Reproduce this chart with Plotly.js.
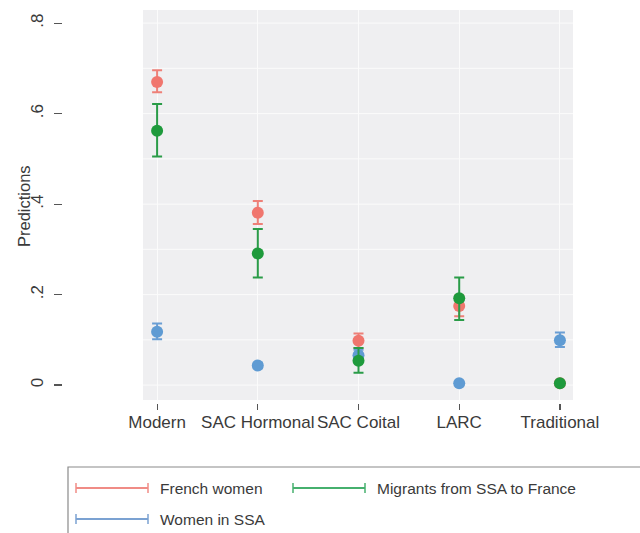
<!DOCTYPE html>
<html>
<head>
<meta charset="utf-8">
<script src="https://cdn.plot.ly/plotly-3.0.1.min.js"></script>
<style>html,body{margin:0;padding:0;background:#fff;}#chart{width:640px;height:533px;}</style>
</head>
<body>
<div id="chart"></div>
<script>
const categories = ["Modern", "SAC Hormonal", "SAC Coital", "LARC", "Traditional"];
const seriesNames = ["French women", "Migrants from SSA to France", "Women in SSA"];

const frenchValues = [0.670, 0.381, 0.098, 0.175, 0.004];
const frenchLow    = [0.647, 0.356, 0.082, 0.152, 0.001];
const frenchHigh   = [0.696, 0.407, 0.114, 0.198, 0.007];

const migrantValues = [0.562, 0.291, 0.054, 0.192, 0.004];
const migrantLow    = [0.505, 0.238, 0.027, 0.144, 0.001];
const migrantHigh   = [0.621, 0.345, 0.082, 0.238, 0.007];

const ssaValues = [0.118, 0.043, 0.066, 0.004, 0.099];
const ssaLow    = [0.101, 0.037, 0.054, 0.002, 0.084];
const ssaHigh   = [0.136, 0.049, 0.078, 0.006, 0.116];

const yTickVals = [0, 0.2, 0.4, 0.6, 0.8];
const yTickText = ["0", ".2", ".4", ".6", ".8"];
const yTitle = "Predictions";

const colors = ["#f0766e", "#1e9a3c", "#5f9bd3"];
const errColors = ["#ee8078", "#2a9c48", "#6a9ed4"];
const legendColors = ["#f08c86", "#46b06e", "#7ba2d2"];

function makeTrace(name, vals, lo, hi, i) {
  const xs = categories.map((c, k) => k);
  return {
    type: "scatter", mode: "markers", name: name,
    x: xs, y: vals,
    marker: {color: colors[i], size: 12},
    error_y: {
      type: "data", symmetric: false,
      array: hi.map((h, k) => h - vals[k]),
      arrayminus: vals.map((v, k) => v - lo[k]),
      color: errColors[i], thickness: 2, width: 5
    },
    showlegend: false, hoverinfo: "skip"
  };
}

const traces = [
  makeTrace(seriesNames[0], frenchValues, frenchLow, frenchHigh, 0),
  makeTrace(seriesNames[2], ssaValues, ssaLow, ssaHigh, 2),
  makeTrace(seriesNames[1], migrantValues, migrantLow, migrantHigh, 1)
];

const W = 640, H = 533;
const px = v => v / W;
const py = v => 1 - v / H;

const axisFont = {family: "Liberation Sans, Arial, sans-serif", size: 17, color: "#3a3a3a"};
const legendFont = {family: "Liberation Sans, Arial, sans-serif", size: 15.5, color: "#3a3a3a"};

// custom legend
const shapes = [
  {type: "rect", xref: "paper", yref: "paper", x0: px(68), x1: px(660), y0: py(545), y1: py(467),
   line: {color: "#8a8a8a", width: 1.2}, fillcolor: "rgba(0,0,0,0)"}
];
const annotations = [
  {xref: "paper", yref: "paper", x: px(24), y: py(206), xanchor: "center", yanchor: "middle",
   textangle: -90, text: yTitle, showarrow: false,
   font: {family: "Liberation Sans, Arial, sans-serif", size: 16.5, color: "#3a3a3a"}}
];
const legendItems = [
  {name: seriesNames[0], c: legendColors[0], x: 76, y: 488},
  {name: seriesNames[1], c: legendColors[1], x: 293, y: 488},
  {name: seriesNames[2], c: legendColors[2], x: 76, y: 519}
];
legendItems.forEach(it => {
  shapes.push({type: "line", xref: "paper", yref: "paper", x0: px(it.x), x1: px(it.x + 72), y0: py(it.y), y1: py(it.y), line: {color: it.c, width: 2}});
  shapes.push({type: "line", xref: "paper", yref: "paper", x0: px(it.x), x1: px(it.x), y0: py(it.y - 5), y1: py(it.y + 5), line: {color: it.c, width: 1.5}});
  shapes.push({type: "line", xref: "paper", yref: "paper", x0: px(it.x + 72), x1: px(it.x + 72), y0: py(it.y - 5), y1: py(it.y + 5), line: {color: it.c, width: 1.5}});
  annotations.push({xref: "paper", yref: "paper", x: px(it.x + 82), y: py(it.y), xanchor: "left", yanchor: "middle",
    text: it.name, showarrow: false, font: legendFont});
});

const layout = {
  width: W, height: H,
  margin: {l: 0, r: 0, t: 0, b: 0},
  paper_bgcolor: "#ffffff",
  plot_bgcolor: "#efeff1",
  showlegend: false,
  font: axisFont,
  xaxis: {
    domain: [px(143), px(573)],
    range: [-0.14, 4.13],
    tickvals: [0, 1, 2, 3, 4],
    ticktext: categories,
    anchor: "free", position: py(403),
    ticks: "outside", ticklen: 6, tickcolor: "#555555", tickwidth: 1.2,
    ticklabelstandoff: -2,
    showgrid: true, gridcolor: "#fbfbfb", gridwidth: 1,
    zeroline: false, showline: false,
    tickfont: axisFont
  },
  yaxis: {
    domain: [py(400), py(10)],
    range: [-0.033, 0.829],
    tickvals: yTickVals,
    ticktext: yTickText,
    tickangle: -90,
    anchor: "free", position: px(62),
    ticks: "outside", ticklen: 8, tickcolor: "#555555", tickwidth: 1.2,
    ticklabelstandoff: 4,
    showgrid: false,
    zeroline: false, showline: false,
    tickfont: axisFont
  },
  shapes: shapes,
  annotations: annotations
};

// horizontal gridlines every 0.1 inside the plot area
const gridVals = [0, 0.1, 0.2, 0.3, 0.4, 0.5, 0.6, 0.7, 0.8];
gridVals.forEach(g => {
  layout.shapes.unshift({type: "line", xref: "x domain", yref: "y", x0: 0, x1: 1, y0: g, y1: g,
    line: {color: "#fbfbfb", width: 1}, layer: "below"});
});

Plotly.newPlot("chart", traces, layout, {displayModeBar: false, staticPlot: true});
</script>
</body>
</html>
